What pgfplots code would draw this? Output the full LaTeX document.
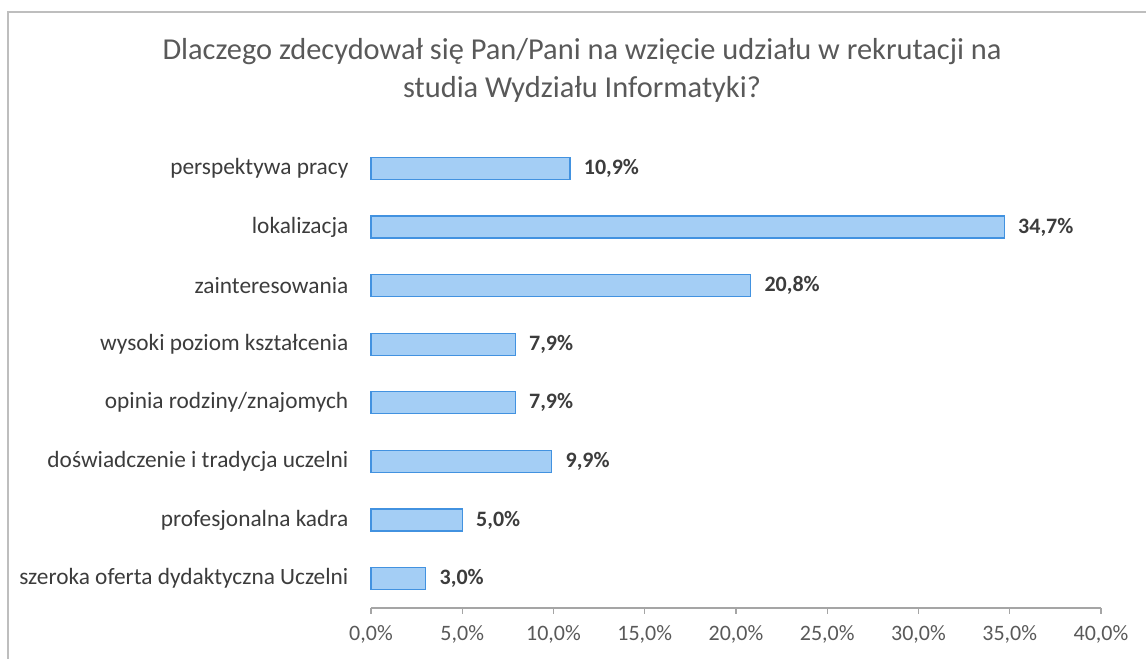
\documentclass[border=0pt]{standalone}
\usepackage{pgfplots}
\pgfplotsset{compat=1.18}
\usetikzlibrary{calc}
\usepackage{fontspec}
\setmainfont{Carlito}
\definecolor{barfill}{RGB}{164,206,245}
\definecolor{barline}{RGB}{66,146,224}
\definecolor{txt}{RGB}{60,60,60}
\definecolor{ttl}{RGB}{89,89,89}
\definecolor{axl}{RGB}{165,165,165}
\definecolor{frm}{RGB}{190,190,190}
\begin{document}
\begin{tikzpicture}
\begin{axis}[
  scale only axis, width=547.5pt, height=351.75pt,
  xmin=0, xmax=40, ymin=0.5, ymax=8.5,
  xtick={0,5,...,40},
  ytick={1,...,8},
  yticklabels={szeroka oferta dydaktyczna Uczelni,profesjonalna kadra,doświadczenie i tradycja uczelni,opinia rodziny/znajomych,wysoki poziom kształcenia,zainteresowania,lokalizacja,perspektywa pracy},
  axis x line*=bottom, axis y line*=left,
  y axis line style={draw=none},
  ytick style={draw=none},
  x axis line style={axl,line width=0.8pt,-},
  xtick style={axl,line width=0.8pt},
  tick align=outside, major tick length=4.5pt,
  /pgf/number format/assume math mode=true,
  xticklabel={\pgfmathprintnumber[fixed,fixed zerofill,precision=1,use comma]{\tick}\%},
  xticklabel style={font=\fontsize{16.5}{18}\selectfont,text=ttl,yshift=-5pt},
  yticklabel style={font=\fontsize{17.5}{19}\selectfont,text=txt,xshift=-9pt},
  xbar, bar width=16.5pt,
  nodes near coords={\pgfmathprintnumber[fixed,fixed zerofill,precision=1,use comma,assume math mode=true]{\pgfplotspointmeta}\%},
  nodes near coords style={font=\bfseries\fontsize{16.5}{18}\selectfont,text=txt,anchor=west,inner sep=0pt,xshift=10pt},
  point meta=explicit,
  clip=false,
]
\addplot[fill=barfill,draw=barline,line width=0.9pt] table[x=v,y=i,meta=v] {
i v
8 10.9
7 34.7
6 20.8
5 7.9
4 7.9
3 9.9
2 5.0
1 3.0
};
\coordinate (BL) at (rel axis cs:0,0);
\end{axis}
\begin{scope}[shift={($(BL)+(-278.25pt,-38.25pt)$)},x=0.75pt,y=0.75pt]
\path[use as bounding box] (0,0) rectangle (1146,659);
\draw[frm,line width=0.8pt] (8,0) -- (8,647) -- (1146,647);
\node[ttl,align=center,font=\fontsize{22.8}{28.5}\selectfont,anchor=base] at (582,561)
  {Dlaczego zdecydował się Pan/Pani na wzięcie udziału w rekrutacji na\\studia Wydziału Informatyki?};
\end{scope}
\end{tikzpicture}
\end{document}
